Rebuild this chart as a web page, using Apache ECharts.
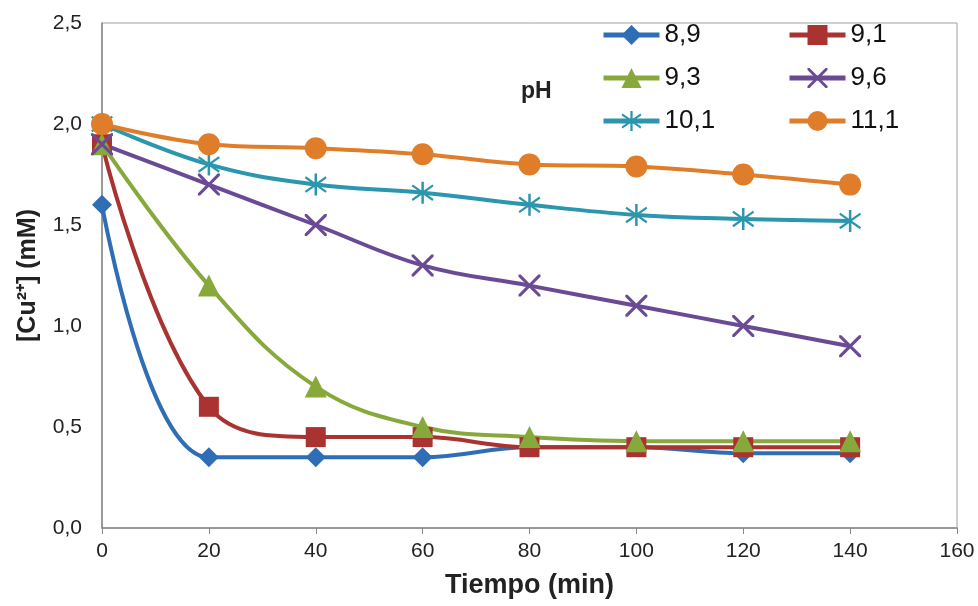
<!DOCTYPE html>
<html>
<head>
<meta charset="utf-8">
<script src="https://cdn.jsdelivr.net/npm/echarts@6/dist/echarts.min.js"></script>
<style>
  html, body { margin: 0; padding: 0; background: #fff; }
  #chart { width: 978px; height: 606px; }
</style>
</head>
<body>
<div id="chart"></div>
<script>
// tiempo (min)
const tiempo = [0, 20, 40, 60, 80, 100, 120, 140]
// [Cu2+] (mM) para cada pH
const ph89 = [1.6, 0.35, 0.35, 0.35, 0.40, 0.40, 0.37, 0.37]
const ph91 = [1.9, 0.60, 0.45, 0.45, 0.40, 0.40, 0.40, 0.40]
const ph93 = [1.9, 1.20, 0.70, 0.50, 0.45, 0.43, 0.43, 0.43]
const ph96 = [1.9, 1.70, 1.50, 1.30, 1.20, 1.10, 1.00, 0.90]
const ph101 = [2.0, 1.80, 1.70, 1.66, 1.60, 1.55, 1.53, 1.52]
const ph111 = [2.0, 1.90, 1.88, 1.85, 1.80, 1.79, 1.75, 1.70]
const seriesNames = ['8,9', '9,1', '9,3', '9,6', '10,1', '11,1']

// marcadores tipo Excel
const crossPath = 'path://M0,0 L2,0 L10,8 L18,0 L20,0 L20,2 L12,10 L20,18 L20,20 L18,20 L10,12 L2,20 L0,20 L0,18 L8,10 L0,2 Z'
const starPath = 'path://M9,0 L11,0 L11,20 L9,20 Z M1.2,4.2 L2.2,2.5 L18.8,15.8 L17.8,17.5 Z M17.8,2.5 L18.8,4.2 L2.2,17.5 L1.2,15.8 Z'

function pares(vals) {
  return tiempo.map((t, i) => [t, vals[i]])
}

function serie(name, vals, color, symbol, size) {
  return {
    name: name,
    type: 'line',
    smooth: 0.4,
    data: pares(vals),
    symbol: symbol,
    symbolSize: size,
    lineStyle: { color: color, width: 4 },
    itemStyle: { color: color },
    emphasis: { disabled: true }
  }
}

const leyendaBase = {
  orient: 'vertical',
  top: 22,
  padding: 0,
  itemWidth: 56,
  itemHeight: 25,
  itemGap: 17,
  lineStyle: { width: 5 },
  textStyle: { fontSize: 26, color: '#111' }
}

const chart = echarts.init(document.getElementById('chart'))
chart.setOption({
  backgroundColor: '#fff',
  animation: false,
  textStyle: { fontFamily: 'Liberation Sans, Arial, sans-serif' },
  title: {
    text: 'pH',
    left: 516,
    top: 75,
    textStyle: { fontSize: 23, fontWeight: 'bold', color: '#222' }
  },
  legend: [
    Object.assign({}, leyendaBase, { left: 601, data: ['8,9', '9,3', '10,1'] }),
    Object.assign({}, leyendaBase, { left: 787, data: ['9,1', '9,6', '11,1'] })
  ],
  grid: {
    left: 102,
    right: 21,
    top: 23,
    bottom: 78,
    show: true,
    borderColor: '#a0a0a0',
    borderWidth: 1,
    containLabel: false
  },
  xAxis: {
    type: 'value',
    min: 0,
    max: 160,
    interval: 20,
    name: 'Tiempo (min)',
    nameLocation: 'middle',
    nameGap: 44,
    nameTextStyle: { fontSize: 27, fontWeight: 'bold', color: '#222' },
    axisLine: { show: true, lineStyle: { color: '#888', width: 1.5 } },
    axisTick: { show: true, length: 6, lineStyle: { color: '#888' } },
    axisLabel: { fontSize: 21, color: '#222', margin: 13 },
    splitLine: { show: false }
  },
  yAxis: {
    type: 'value',
    min: 0,
    max: 2.5,
    interval: 0.5,
    name: '[Cu²⁺] (mM)',
    nameLocation: 'middle',
    nameGap: 61,
    nameTextStyle: { fontSize: 25, fontWeight: 'bold', color: '#222' },
    axisLine: { show: true, lineStyle: { color: '#888', width: 1.5 } },
    axisTick: { show: false },
    axisLabel: {
      fontSize: 21,
      color: '#222',
      margin: 20,
      formatter: v => v.toFixed(1).replace('.', ',')
    },
    splitLine: { show: false }
  },
  series: [
    serie(seriesNames[0], ph89, '#2f6eb5', 'diamond', 20),
    serie(seriesNames[1], ph91, '#a83331', 'rect', 20),
    serie(seriesNames[2], ph93, '#87a93c', 'triangle', 22),
    serie(seriesNames[3], ph96, '#6a4a94', crossPath, 22),
    serie(seriesNames[4], ph101, '#2c96ae', starPath, 22),
    serie(seriesNames[5], ph111, '#e07d2a', 'circle', 22)
  ]
})
</script>
</body>
</html>
